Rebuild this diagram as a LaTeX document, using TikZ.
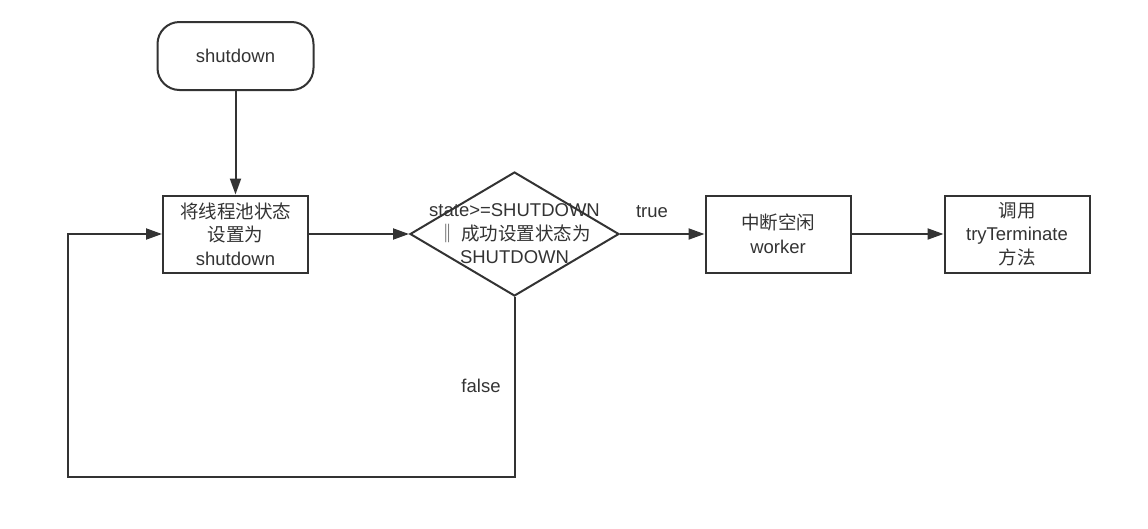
\documentclass[tikz,border=0pt]{standalone}
\usepackage{fontspec}
\setmainfont{Liberation Sans}
\newfontfamily\cjk{Noto Sans CJK SC}
\usetikzlibrary{shapes.geometric,arrows.meta}
\definecolor{ink}{HTML}{333333}
\begin{document}
\begin{tikzpicture}[x=1pt,y=-1pt,
  every node/.style={text=ink,font=\fontsize{18.5}{23.5}\selectfont,align=center},
  boxnode/.style={draw=ink,line width=2pt,minimum width=145pt,minimum height=77pt,inner sep=0pt},
  termnode/.style={draw=ink,line width=2pt,rounded corners=22pt,minimum width=156pt,minimum height=68pt,inner sep=0pt},
  decnode/.style={draw=ink,line width=2pt,diamond,minimum width=209pt,minimum height=124pt,inner sep=0pt},
  conn/.style={draw=ink,line width=2pt,-{Triangle[length=16pt,width=11pt]}}]
\path[use as bounding box] (0,0) rectangle (1148,528);
\node[termnode] (start) at (235.5,56) {shutdown};
\node[boxnode] (set) at (235.5,234) {{\cjk 将线程池状态}\\{\cjk 设置为}\\shutdown};
\node[decnode] (dec) at (514.5,234) {};
\node (dectext) at (514.5,234) {state>=SHUTDOWN\\{\cjk ‖ 成功设置状态为}\\SHUTDOWN};
\node[boxnode] (intr) at (778,234) {{\cjk 中断空闲}\\worker};
\node[boxnode] (term) at (1017,234) {{\cjk 调用}\\tryTerminate\\{\cjk 方法}};
\coordinate (c1) at (514.5,477);
\coordinate (c2) at (68,477);
\coordinate (c3) at (68,234);
\draw[conn] (start) -- (set);
\draw[conn] (set.east) -- (dec.west);
\draw[conn] (dec.east) -- (intr.west);
\draw[conn] (intr.east) -- (term.west);
\draw[conn] (dec.south) -- (c1) -- (c2) -- (c3) -- (set.west);
\node (truelbl) at (652,212) {true};
\node (falselbl) at (481,386) {false};
\end{tikzpicture}
\end{document}
